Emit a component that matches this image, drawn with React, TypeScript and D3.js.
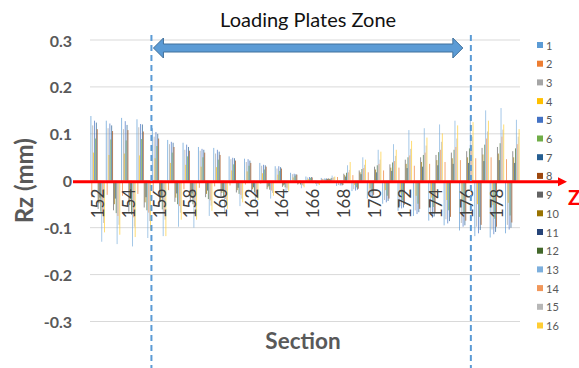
import React from "react";
import * as d3 from "d3";

const sections = [152,153,154,155,156,157,158,159,160,161,162,163,164,165,166,167,168,169,170,171,172,173,174,175,176,177,178,179];
const seriesNames = ["1","2","3","4","5","6","7","8","9","10","11","12","13","14","15","16"];
const seriesColors = ["#5B9BD5","#ED7D31","#A5A5A5","#FFC000","#4472C4","#70AD47","#255E91","#9E480E","#636363","#997300","#264478","#43682B","#7CAFDD","#F1975A","#B7B7B7","#FFCD33"];
const yTicks = [0.3,0.2,0.1,0,-0.1,-0.2,-0.3];
const yTickLabels = ["0.3","0.2","0.1","0","-0.1","-0.2","-0.3"];

const s1 = [0.138,0.128,0.134,0.131,0.112,0.087,0.081,0.072,0.070,0.052,0.047,0.038,0.031,0.017,0.009,0.006,-0.011,-0.022,-0.038,-0.049,-0.064,-0.075,-0.085,-0.095,-0.106,-0.118,-0.121,-0.112];
const s2 = [-0.035,-0.030,-0.032,-0.028,-0.025,-0.020,-0.018,-0.015,-0.012,-0.010,-0.008,-0.006,-0.004,-0.002,0.002,0.004,0.008,0.012,0.018,0.022,0.028,0.032,0.036,0.040,0.044,0.048,0.050,0.046];
const s3 = [0.118,0.112,0.110,0.114,0.094,0.078,0.066,0.064,0.058,0.046,0.040,0.032,0.026,0.014,0.007,0.004,-0.009,-0.018,-0.031,-0.041,-0.054,-0.063,-0.072,-0.082,-0.090,-0.098,-0.104,-0.094];
const s4 = [0.060,0.055,0.058,0.054,0.048,0.038,0.034,0.030,0.029,0.022,0.020,0.016,0.013,0.007,0.004,0.002,-0.004,-0.009,-0.016,-0.020,-0.027,-0.032,-0.036,-0.041,-0.045,-0.050,-0.052,-0.047];
const s5 = [0.128,0.122,0.127,0.121,0.104,0.083,0.077,0.068,0.066,0.049,0.046,0.034,0.031,0.015,0.008,0.005,-0.010,-0.021,-0.034,-0.046,-0.059,-0.071,-0.079,-0.091,-0.098,-0.112,-0.114,-0.104];
const s6 = [0.090,0.088,0.086,0.089,0.074,0.060,0.052,0.050,0.045,0.035,0.032,0.024,0.021,0.011,0.006,0.003,-0.007,-0.014,-0.025,-0.032,-0.042,-0.049,-0.056,-0.063,-0.070,-0.077,-0.081,-0.074];
const s7 = [0.124,0.118,0.119,0.120,0.100,0.081,0.072,0.066,0.062,0.048,0.043,0.033,0.029,0.014,0.008,0.005,-0.010,-0.019,-0.033,-0.043,-0.057,-0.067,-0.076,-0.086,-0.095,-0.105,-0.109,-0.100];
const s8 = [0.110,0.106,0.108,0.105,0.090,0.072,0.064,0.060,0.055,0.043,0.038,0.030,0.026,0.013,0.007,0.004,-0.009,-0.017,-0.030,-0.038,-0.051,-0.060,-0.068,-0.077,-0.085,-0.094,-0.098,-0.089];
const s9 = [-0.060,-0.063,-0.066,-0.057,-0.055,-0.045,-0.046,-0.035,-0.033,-0.025,-0.023,-0.018,-0.013,-0.008,-0.005,0.005,0.015,0.022,0.030,0.035,0.045,0.050,0.055,0.060,0.063,0.070,0.072,0.063];
const s10 = [-0.048,-0.050,-0.052,-0.046,-0.044,-0.036,-0.036,-0.028,-0.026,-0.020,-0.018,-0.014,-0.010,-0.006,-0.004,0.004,0.012,0.018,0.024,0.028,0.036,0.040,0.044,0.048,0.050,0.056,0.058,0.050];
const s11 = [-0.036,-0.038,-0.039,-0.035,-0.033,-0.027,-0.027,-0.021,-0.020,-0.015,-0.014,-0.011,-0.008,-0.005,-0.003,0.003,0.009,0.014,0.018,0.021,0.027,0.030,0.033,0.036,0.038,0.042,0.044,0.038];
const s12 = [-0.066,-0.069,-0.072,-0.063,-0.061,-0.050,-0.050,-0.039,-0.036,-0.028,-0.025,-0.019,-0.014,-0.008,-0.006,0.006,0.017,0.025,0.033,0.039,0.050,0.055,0.061,0.066,0.069,0.077,0.080,0.069];
const s13 = [-0.130,-0.135,-0.140,-0.122,-0.118,-0.098,-0.100,-0.075,-0.070,-0.054,-0.049,-0.038,-0.027,-0.016,-0.011,0.011,0.033,0.050,0.066,0.078,0.108,0.112,0.120,0.128,0.138,0.150,0.155,0.130];
const s14 = [-0.070,-0.075,-0.078,-0.068,-0.066,-0.054,-0.054,-0.042,-0.039,-0.030,-0.027,-0.021,-0.015,-0.009,-0.006,0.006,0.018,0.027,0.036,0.042,0.054,0.060,0.066,0.072,0.075,0.090,0.094,0.078];
const s15 = [-0.090,-0.094,-0.098,-0.086,-0.083,-0.068,-0.068,-0.053,-0.049,-0.038,-0.034,-0.026,-0.019,-0.011,-0.008,0.008,0.023,0.034,0.045,0.053,0.068,0.075,0.083,0.090,0.094,0.105,0.109,0.094];
const s16 = [-0.110,-0.115,-0.120,-0.106,-0.118,-0.083,-0.083,-0.064,-0.060,-0.046,-0.041,-0.032,-0.023,-0.014,-0.009,0.009,0.040,0.045,0.062,0.066,0.085,0.092,0.101,0.118,0.125,0.128,0.120,0.110];

const seriesValues = [s1,s2,s3,s4,s5,s6,s7,s8,s9,s10,s11,s12,s13,s14,s15,s16];

const zoneStart = 155.5;
const zoneEnd = 176.3;

const W = 579, H = 368;
const plotL = 90, plotR = 520, plotT = 40, plotB = 321.5;
const FONT = "Lato, 'Open Sans', sans-serif";

export default function App() {
  const x = d3.scaleBand<number>().domain(sections).range([plotL, plotR]).paddingInner(0).paddingOuter(0);
  const step = x.step();
  const groupW = step * 16 / 17;
  const xs = d3.scaleBand<string>().domain(seriesNames).range([0, groupW]).padding(0);
  const y = d3.scaleLinear().domain([-0.3, 0.3]).range([plotB, plotT]);
  const zeroY = y(0);
  const xCont = d3.scaleLinear().domain([sections[0], sections[sections.length - 1]])
    .range([x(sections[0])! + step / 2, x(sections[sections.length - 1])! + step / 2]);
  const zx1 = xCont(zoneStart);
  const zx2 = xCont(zoneEnd);

  const arrowY = 48;
  const ax1 = zx1 + 2, ax2 = zx2 - 8;
  const headL = 10, shaftH = 4, headH = 10;
  const arrowPath = `M${ax1},${arrowY} L${ax1 + headL},${arrowY - headH} L${ax1 + headL},${arrowY - shaftH} L${ax2 - headL},${arrowY - shaftH} L${ax2 - headL},${arrowY - headH} L${ax2},${arrowY} L${ax2 - headL},${arrowY + headH} L${ax2 - headL},${arrowY + shaftH} L${ax1 + headL},${arrowY + shaftH} L${ax1 + headL},${arrowY + headH} Z`;

  return (
    <svg width={W} height={H} style={{ position: "absolute", left: 0, top: 0, background: "#fff" }} fontFamily={FONT}>
      <rect x={0} y={0} width={W} height={H} fill="#fff" />
      {yTicks.filter(t => t !== 0).map(t => (
        <line key={"g" + t} x1={plotL} x2={plotR} y1={y(t)} y2={y(t)} stroke="#D9D9D9" strokeWidth={1} />
      ))}
      {yTicks.map((t, i) => (
        <text key={"yt" + t} x={72} y={y(t)} textAnchor="end" dominantBaseline="central" fontSize={16} fontWeight="bold" fill="#595959">{yTickLabels[i]}</text>
      ))}
      <text transform={`translate(33,${zeroY}) rotate(-90)`} textAnchor="middle" fontSize={24} fontWeight="bold" fill="#595959">Rz (mm)</text>

      {seriesValues.map((vals, si) => (
        <g key={"s" + si} fill={seriesColors[si]} opacity={0.75}>
          {vals.map((v, ci) => {
            const bx = x(sections[ci])! + (step - groupW) / 2 + xs(seriesNames[si])!;
            return <rect key={ci} x={bx} width={xs.bandwidth()} y={Math.min(y(v), zeroY)} height={Math.abs(y(v) - zeroY)} />;
          })}
        </g>
      ))}

      <line x1={73} x2={560} y1={zeroY + 1} y2={zeroY + 1} stroke="#FF0000" strokeWidth={3} />
      <path d={`M558,${zeroY + 1 - 4.5} L567,${zeroY + 1} L558,${zeroY + 1 + 4.5} Z`} fill="#FF0000" />
      <text x={568} y={205} fontSize={20} fontWeight="bold" fill="#FF0000">Z</text>

      {sections.filter(s => s % 2 === 0).map(s => (
        <text key={"xl" + s} transform={`translate(${x(s)! + step / 2},${zeroY + 8}) rotate(-90)`} textAnchor="end" dominantBaseline="central" fontSize={17} fill="#404040">{s}</text>
      ))}

      <line x1={zx1} x2={zx1} y1={35} y2={H} stroke="#5B9BD5" strokeWidth={2} strokeDasharray="6,4" />
      <line x1={zx2} x2={zx2} y1={35} y2={H} stroke="#5B9BD5" strokeWidth={2} strokeDasharray="6,4" />
      <path d={arrowPath} fill="#5B9BD5" stroke="#41719C" strokeWidth={1} />
      <text x={(ax1 + ax2) / 2} y={27} textAnchor="middle" fontSize={20} fill="#111">Loading Plates Zone</text>

      <text x={303} y={349} textAnchor="middle" fontSize={22.5} fontWeight="bold" fill="#595959">Section</text>

      {seriesNames.map((n, i) => (
        <g key={"lg" + n} transform={`translate(537,${45 + i * 18.7})`}>
          <rect x={0} y={-3} width={6} height={6} fill={seriesColors[i]} />
          <text x={9} y={0} dominantBaseline="central" fontSize={11} fill="#595959">{n}</text>
        </g>
      ))}
    </svg>
  );
}
